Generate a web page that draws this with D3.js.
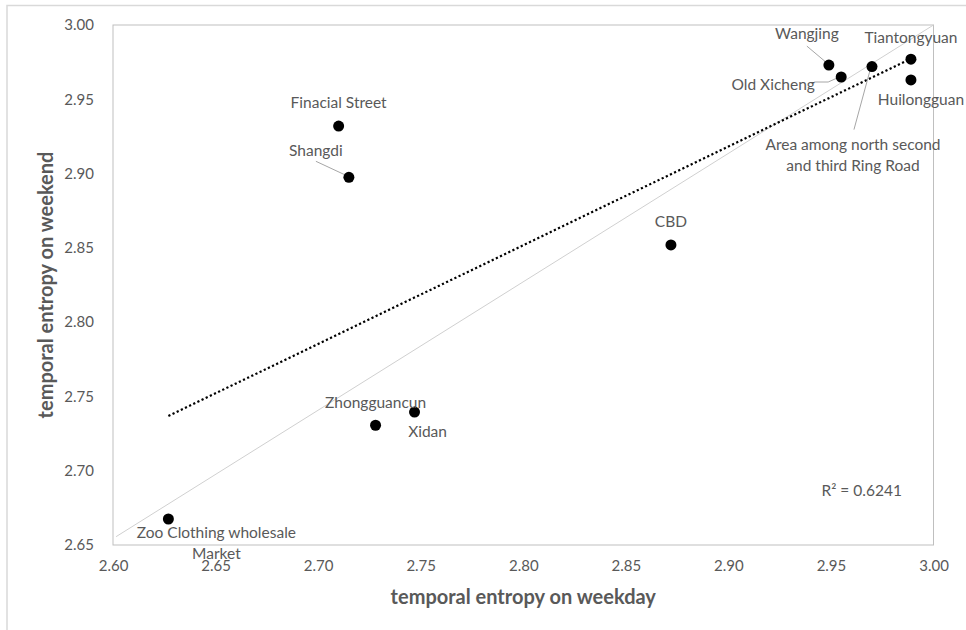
<!DOCTYPE html>
<html>
<head>
<meta charset="utf-8">
<script src="https://cdn.jsdelivr.net/npm/d3@7"></script>
<style>
  body { margin: 0; background: #fff; }
  svg text { font-family: Lato, "Liberation Sans", sans-serif; fill: #595959; }
</style>
</head>
<body>
<svg width="966" height="630"></svg>
<script>
// data
const names = ['Zoo Clothing wholesale\nMarket', 'Zhongguancun', 'Xidan', 'Finacial Street', 'Shangdi',
    'CBD', 'Wangjing', 'Old Xicheng', 'Area among north second\nand third Ring Road', 'Tiantongyuan', 'Huilongguan'];
const weekday = [2.627, 2.728, 2.747, 2.710, 2.715, 2.872, 2.949, 2.955, 2.970, 2.989, 2.989];
const weekend = [2.6675, 2.7306, 2.7395, 2.932, 2.8975, 2.852, 2.973, 2.965, 2.972, 2.977, 2.963];
const xTicks = [2.60, 2.65, 2.70, 2.75, 2.80, 2.85, 2.90, 2.95, 3.00];
const yTicks = [2.65, 2.70, 2.75, 2.80, 2.85, 2.90, 2.95, 3.00];
const refLine = [[2.6015, 2.6556], [3.0, 3.0]];
const rSquared = '0.6241';

// label placement (pixels, relative to the dot) and leader lines
const labelPos = [
    { dx: 48, dy: 14 }, { dx: 0, dy: -23 }, { dx: 13, dy: 20 }, { dx: 0, dy: -23 },
    { dx: -33, dy: -27, lead: [[-33, -16], [-3, -2]] },
    { dx: 0, dy: -23 },
    { dx: -22, dy: -32, lead: [[-22, -19], [-3, -3]] },
    { dx: -68, dy: 8, lead: [[-27, 5], [-13, 5], [-4, 1]] },
    { dx: -19, dy: 78, lead: [[-18, 63], [-2, 4]] },
    { dx: 0, dy: -22 }, { dx: 10, dy: 20 }
];

const svg = d3.select('svg');
const width = +svg.attr('width');
const height = +svg.attr('height');
const margin = { top: 25, right: 32.5, bottom: 85, left: 113 };
const innerWidth = width - margin.left - margin.right;
const innerHeight = height - margin.top - margin.bottom;

const data = names.map((n, i) => ({ name: n, x: weekday[i], y: weekend[i], pos: labelPos[i] }));

// outer chart border (only top and left edges are inside the frame)
svg.append('path')
    .attr('d', 'M7,630V5.5H966')
    .attr('fill', 'none').attr('stroke', '#d9d9d9').attr('stroke-width', 1.5);

const xScale = d3.scaleLinear().domain([2.6, 3.0]).range([0, innerWidth]);
const yScale = d3.scaleLinear().domain([2.65, 3.0]).range([innerHeight, 0]);

const g = svg.append('g')
    .attr('transform', `translate(${margin.left}, ${margin.top})`);

g.append('rect')
    .attr('width', innerWidth).attr('height', innerHeight)
    .attr('fill', 'none').attr('stroke', '#bfbfbf').attr('stroke-width', 1);

const yAxisG = g.append('g')
    .call(d3.axisLeft(yScale).tickValues(yTicks).tickFormat(d3.format('.2f')).tickSize(0).tickPadding(19));
const xAxisG = g.append('g')
    .attr('transform', `translate(0, ${innerHeight})`)
    .call(d3.axisBottom(xScale).tickValues(xTicks).tickFormat(d3.format('.2f')).tickSize(0).tickPadding(15));
[yAxisG, xAxisG].forEach(a => {
    a.attr('font-family', null).attr('font-size', null);
    a.select('.domain').remove();
    a.selectAll('text').attr('font-size', 15).attr('fill', '#595959');
});

g.append('text')
    .attr('x', innerWidth / 2).attr('y', innerHeight + 59)
    .attr('text-anchor', 'middle')
    .attr('font-size', 20).attr('font-weight', 'bold')
    .text('temporal entropy on weekday');

g.append('text')
    .attr('transform', `translate(-60, ${innerHeight / 2}) rotate(-90)`)
    .attr('text-anchor', 'middle')
    .attr('font-size', 20).attr('font-weight', 'bold')
    .text('temporal entropy on weekend');

// grey reference line
const line = d3.line().x(d => xScale(d[0])).y(d => yScale(d[1]));
g.append('path')
    .attr('d', line(refLine))
    .attr('fill', 'none').attr('stroke', '#d0d0d0').attr('stroke-width', 1);

// linear trendline over the data range
const mx = d3.mean(weekday), my = d3.mean(weekend);
const slope = d3.sum(weekday, (v, i) => (v - mx) * (weekend[i] - my)) / d3.sum(weekday, v => (v - mx) ** 2);
const trend = d3.extent(weekday).map(v => [v, my + slope * (v - mx)]);
g.append('path')
    .attr('d', line(trend))
    .attr('fill', 'none').attr('stroke', '#000').attr('stroke-width', 2.2)
    .attr('stroke-dasharray', '2.2,2.4');

// leader lines
g.selectAll('.lead').data(data.filter(d => d.pos.lead))
    .enter().append('path')
    .attr('class', 'lead')
    .attr('d', d => d3.line()(d.pos.lead.map(p => [xScale(d.x) + p[0], yScale(d.y) + p[1]])))
    .attr('fill', 'none').attr('stroke', '#a6a6a6').attr('stroke-width', 1);

g.selectAll('circle').data(data)
    .enter().append('circle')
    .attr('cx', d => xScale(d.x))
    .attr('cy', d => yScale(d.y))
    .attr('r', 5.5)
    .attr('fill', '#000');

const labels = g.selectAll('.lbl').data(data)
    .enter().append('text')
    .attr('class', 'lbl')
    .attr('text-anchor', 'middle')
    .attr('font-size', 15.5)
    .attr('transform', d => `translate(${xScale(d.x) + d.pos.dx}, ${yScale(d.y) + d.pos.dy})`);
labels.selectAll('tspan').data(d => d.name.split('\n'))
    .enter().append('tspan')
    .attr('x', 0)
    .attr('y', (s, i) => i * 20.5)
    .attr('dy', '0.35em')
    .text(s => s);

g.append('text')
    .attr('x', xScale(2.965)).attr('y', yScale(2.6863))
    .attr('text-anchor', 'middle').attr('dy', '0.35em')
    .attr('font-size', 15.5)
    .text(`R² = ${rSquared}`);
</script>
</body>
</html>
